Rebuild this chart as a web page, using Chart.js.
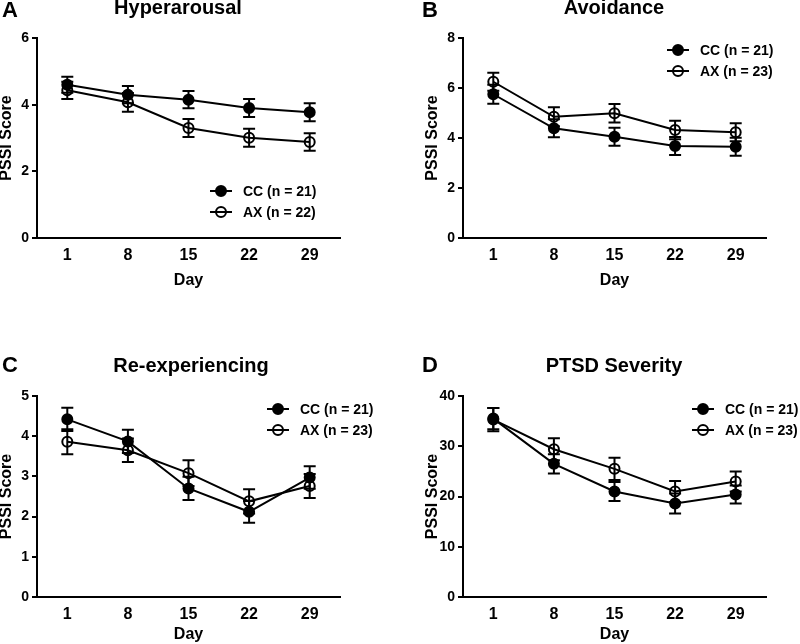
<!DOCTYPE html>
<html>
<head>
<meta charset="utf-8">
<script src="https://cdn.jsdelivr.net/npm/chart.js@4.4.1/dist/chart.umd.min.js"></script>
<style>
    html, body { margin: 0; padding: 0; background: #fff; }
    #wrap { position: relative; width: 800px; height: 644px; overflow: hidden; }
    canvas { position: absolute; }
</style>
</head>
<body>
<div id="wrap">
    <canvas id="chartA" width="400" height="290" style="left:0;top:0"></canvas>
    <canvas id="chartB" width="400" height="290" style="left:400px;top:0"></canvas>
    <canvas id="chartC" width="400" height="314" style="left:0;top:330px"></canvas>
    <canvas id="chartD" width="400" height="314" style="left:400px;top:330px"></canvas>
</div>
<script>
// Day of assessment (x axis categories)
const days = ['1', '8', '15', '22', '29'];

// A - Hyperarousal
const hyperCC = [4.6, 4.3, 4.15, 3.9, 3.77];
const hyperCCErr = [0.24, 0.26, 0.26, 0.27, 0.27];
const hyperAX = [4.43, 4.07, 3.3, 3.01, 2.88];
const hyperAXErr = [0.26, 0.28, 0.27, 0.27, 0.26];

// B - Avoidance
const avoidCC = [5.75, 4.39, 4.05, 3.68, 3.65];
const avoidCCErr = [0.38, 0.36, 0.36, 0.36, 0.36];
const avoidAX = [6.25, 4.85, 4.99, 4.32, 4.23];
const avoidAXErr = [0.36, 0.38, 0.37, 0.37, 0.36];

// C - Re-experiencing
const reexpCC = [4.42, 3.87, 2.7, 2.12, 2.97];
const reexpCCErr = [0.29, 0.29, 0.29, 0.27, 0.28];
const reexpAX = [3.86, 3.65, 3.08, 2.38, 2.76];
const reexpAXErr = [0.31, 0.29, 0.32, 0.3, 0.3];

// D - PTSD Severity
const severityCC = [35.5, 26.5, 21.0, 18.6, 20.4];
const severityCCErr = [2.1, 1.9, 1.9, 2.0, 1.8];
const severityAX = [35.3, 29.4, 25.5, 21.0, 23.0];
const severityAXErr = [2.3, 2.2, 2.2, 2.1, 2.0];

const FONT = "'Liberation Sans', Arial, sans-serif";

// vertical SEM bars with caps, drawn under the points
const errorBarPlugin = {
    id: 'errorBars',
    beforeDatasetsDraw(chart) {
        const ctx = chart.ctx;
        const yScale = chart.scales.y;
        ctx.save();
        ctx.strokeStyle = '#000';
        ctx.lineWidth = 2;
        chart.data.datasets.forEach((ds, i) => {
            chart.getDatasetMeta(i).data.forEach((pt, j) => {
                const top = yScale.getPixelForValue(ds.data[j] + ds.errors[j]);
                const bottom = yScale.getPixelForValue(ds.data[j] - ds.errors[j]);
                ctx.beginPath();
                ctx.moveTo(pt.x, top);
                ctx.lineTo(pt.x, bottom);
                ctx.moveTo(pt.x - 6, top);
                ctx.lineTo(pt.x + 6, top);
                ctx.moveTo(pt.x - 6, bottom);
                ctx.lineTo(pt.x + 6, bottom);
                ctx.stroke();
            });
        });
        ctx.restore();
    }
};

// panel letter + title, and the line-with-marker legend
const panelTextPlugin = {
    id: 'panelText',
    afterDraw(chart, args, opts) {
        const ctx = chart.ctx;
        ctx.save();
        ctx.fillStyle = '#000';
        ctx.textBaseline = 'alphabetic';
        ctx.textAlign = 'left';
        ctx.font = `bold 22px ${FONT}`;
        ctx.fillText(opts.letter, opts.letterX, opts.letterY);
        ctx.textAlign = 'center';
        ctx.font = `bold 20px ${FONT}`;
        ctx.fillText(opts.title, opts.titleX, opts.titleY);

        // legend
        ctx.textAlign = 'left';
        ctx.textBaseline = 'middle';
        ctx.font = `bold 14px ${FONT}`;
        ctx.strokeStyle = '#000';
        ctx.lineWidth = 2;
        chart.data.datasets.forEach((ds, i) => {
            const x = opts.legendX;
            const y = opts.legendY + i * 21;
            ctx.beginPath();
            ctx.moveTo(x - 11, y);
            ctx.lineTo(x + 11, y);
            ctx.stroke();
            ctx.beginPath();
            ctx.arc(x, y, 5, 0, Math.PI * 2);
            if (ds.pointBackgroundColor !== 'rgba(0,0,0,0)') {
                ctx.fillStyle = '#000';
                ctx.fill();
            }
            ctx.stroke();
            ctx.fillStyle = '#000';
            ctx.fillText(ds.label, x + 22, y + 1);
        });
        ctx.restore();
    }
};

function makeDataset(label, values, errors, filled) {
    return {
        label: label,
        data: values,
        errors: errors,
        borderColor: '#000',
        borderWidth: 2,
        tension: 0,
        pointRadius: 5,
        pointBorderWidth: 2,
        pointBorderColor: '#000',
        pointBackgroundColor: filled ? '#000' : 'rgba(0,0,0,0)'
    };
}

function makePanel(id, cfg) {
    const ctx = document.getElementById(id).getContext('2d');
    return new Chart(ctx, {
        type: 'line',
        data: {
            labels: days,
            datasets: [
                makeDataset('CC (n = 21)', cfg.cc, cfg.ccErr, true),
                makeDataset(cfg.axLabel, cfg.ax, cfg.axErr, false)
            ]
        },
        options: {
            responsive: false,
            animation: false,
            devicePixelRatio: 1,
            layout: { padding: cfg.padding },
            scales: {
                x: {
                    type: 'category',
                    offset: true,
                    grid: { display: false },
                    border: { display: true, color: '#000', width: 2 },
                    ticks: {
                        color: '#000',
                        padding: 0,
                        font: { family: FONT, size: 16, weight: 'bold' }
                    },
                    title: {
                        display: true,
                        text: 'Day',
                        color: '#000',
                        padding: { top: 0, bottom: cfg.dayPad },
                        font: { family: FONT, size: 16, weight: 'bold', lineHeight: 1 }
                    },
                    afterFit: (scale) => { scale.height = cfg.xHeight; }
                },
                y: {
                    min: 0,
                    max: cfg.yMax,
                    grid: {
                        drawOnChartArea: false,
                        drawTicks: true,
                        tickLength: 5,
                        color: '#000',
                        lineWidth: 2
                    },
                    border: { display: true, color: '#000', width: 2 },
                    ticks: {
                        stepSize: cfg.yStep,
                        color: '#000',
                        padding: 3,
                        font: { family: FONT, size: 14, weight: 'bold' }
                    },
                    title: {
                        display: true,
                        text: 'PSSI Score',
                        color: '#000',
                        padding: 0,
                        font: { family: FONT, size: 16, weight: 'bold', lineHeight: 0.8 }
                    },
                    afterFit: (scale) => { scale.width = 37; }
                }
            },
            plugins: {
                legend: { display: false },
                tooltip: { enabled: false },
                panelText: cfg.text
            }
        },
        plugins: [errorBarPlugin, panelTextPlugin]
    });
}

document.addEventListener('DOMContentLoaded', () => {
    makePanel('chartA', {
        cc: hyperCC, ccErr: hyperCCErr, ax: hyperAX, axErr: hyperAXErr,
        axLabel: 'AX (n = 22)', yMax: 6, yStep: 2,
        padding: { top: 38, left: 0, right: 60, bottom: 0 }, xHeight: 52, dayPad: 1,
        text: { letter: 'A', letterX: 2, letterY: 17, title: 'Hyperarousal', titleX: 178, titleY: 14,
                legendX: 221, legendY: 191 }
    });
    makePanel('chartB', {
        cc: avoidCC, ccErr: avoidCCErr, ax: avoidAX, axErr: avoidAXErr,
        axLabel: 'AX (n = 23)', yMax: 8, yStep: 2,
        padding: { top: 38, left: 26, right: 34, bottom: 0 }, xHeight: 52, dayPad: 1,
        text: { letter: 'B', letterX: 22, letterY: 17, title: 'Avoidance', titleX: 214, titleY: 14,
                legendX: 278, legendY: 50 }
    });
    makePanel('chartC', {
        cc: reexpCC, ccErr: reexpCCErr, ax: reexpAX, axErr: reexpAXErr,
        axLabel: 'AX (n = 23)', yMax: 5, yStep: 1,
        padding: { top: 66, left: 0, right: 60, bottom: 0 }, xHeight: 47, dayPad: 1,
        text: { letter: 'C', letterX: 2, letterY: 42, title: 'Re-experiencing', titleX: 191, titleY: 42,
                legendX: 278, legendY: 79 }
    });
    makePanel('chartD', {
        cc: severityCC, ccErr: severityCCErr, ax: severityAX, axErr: severityAXErr,
        axLabel: 'AX (n = 23)', yMax: 40, yStep: 10,
        padding: { top: 66, left: 26, right: 34, bottom: 0 }, xHeight: 47, dayPad: 1,
        text: { letter: 'D', letterX: 22, letterY: 42, title: 'PTSD Severity', titleX: 214, titleY: 42,
                legendX: 303, legendY: 79 }
    });
});
</script>
</body>
</html>
